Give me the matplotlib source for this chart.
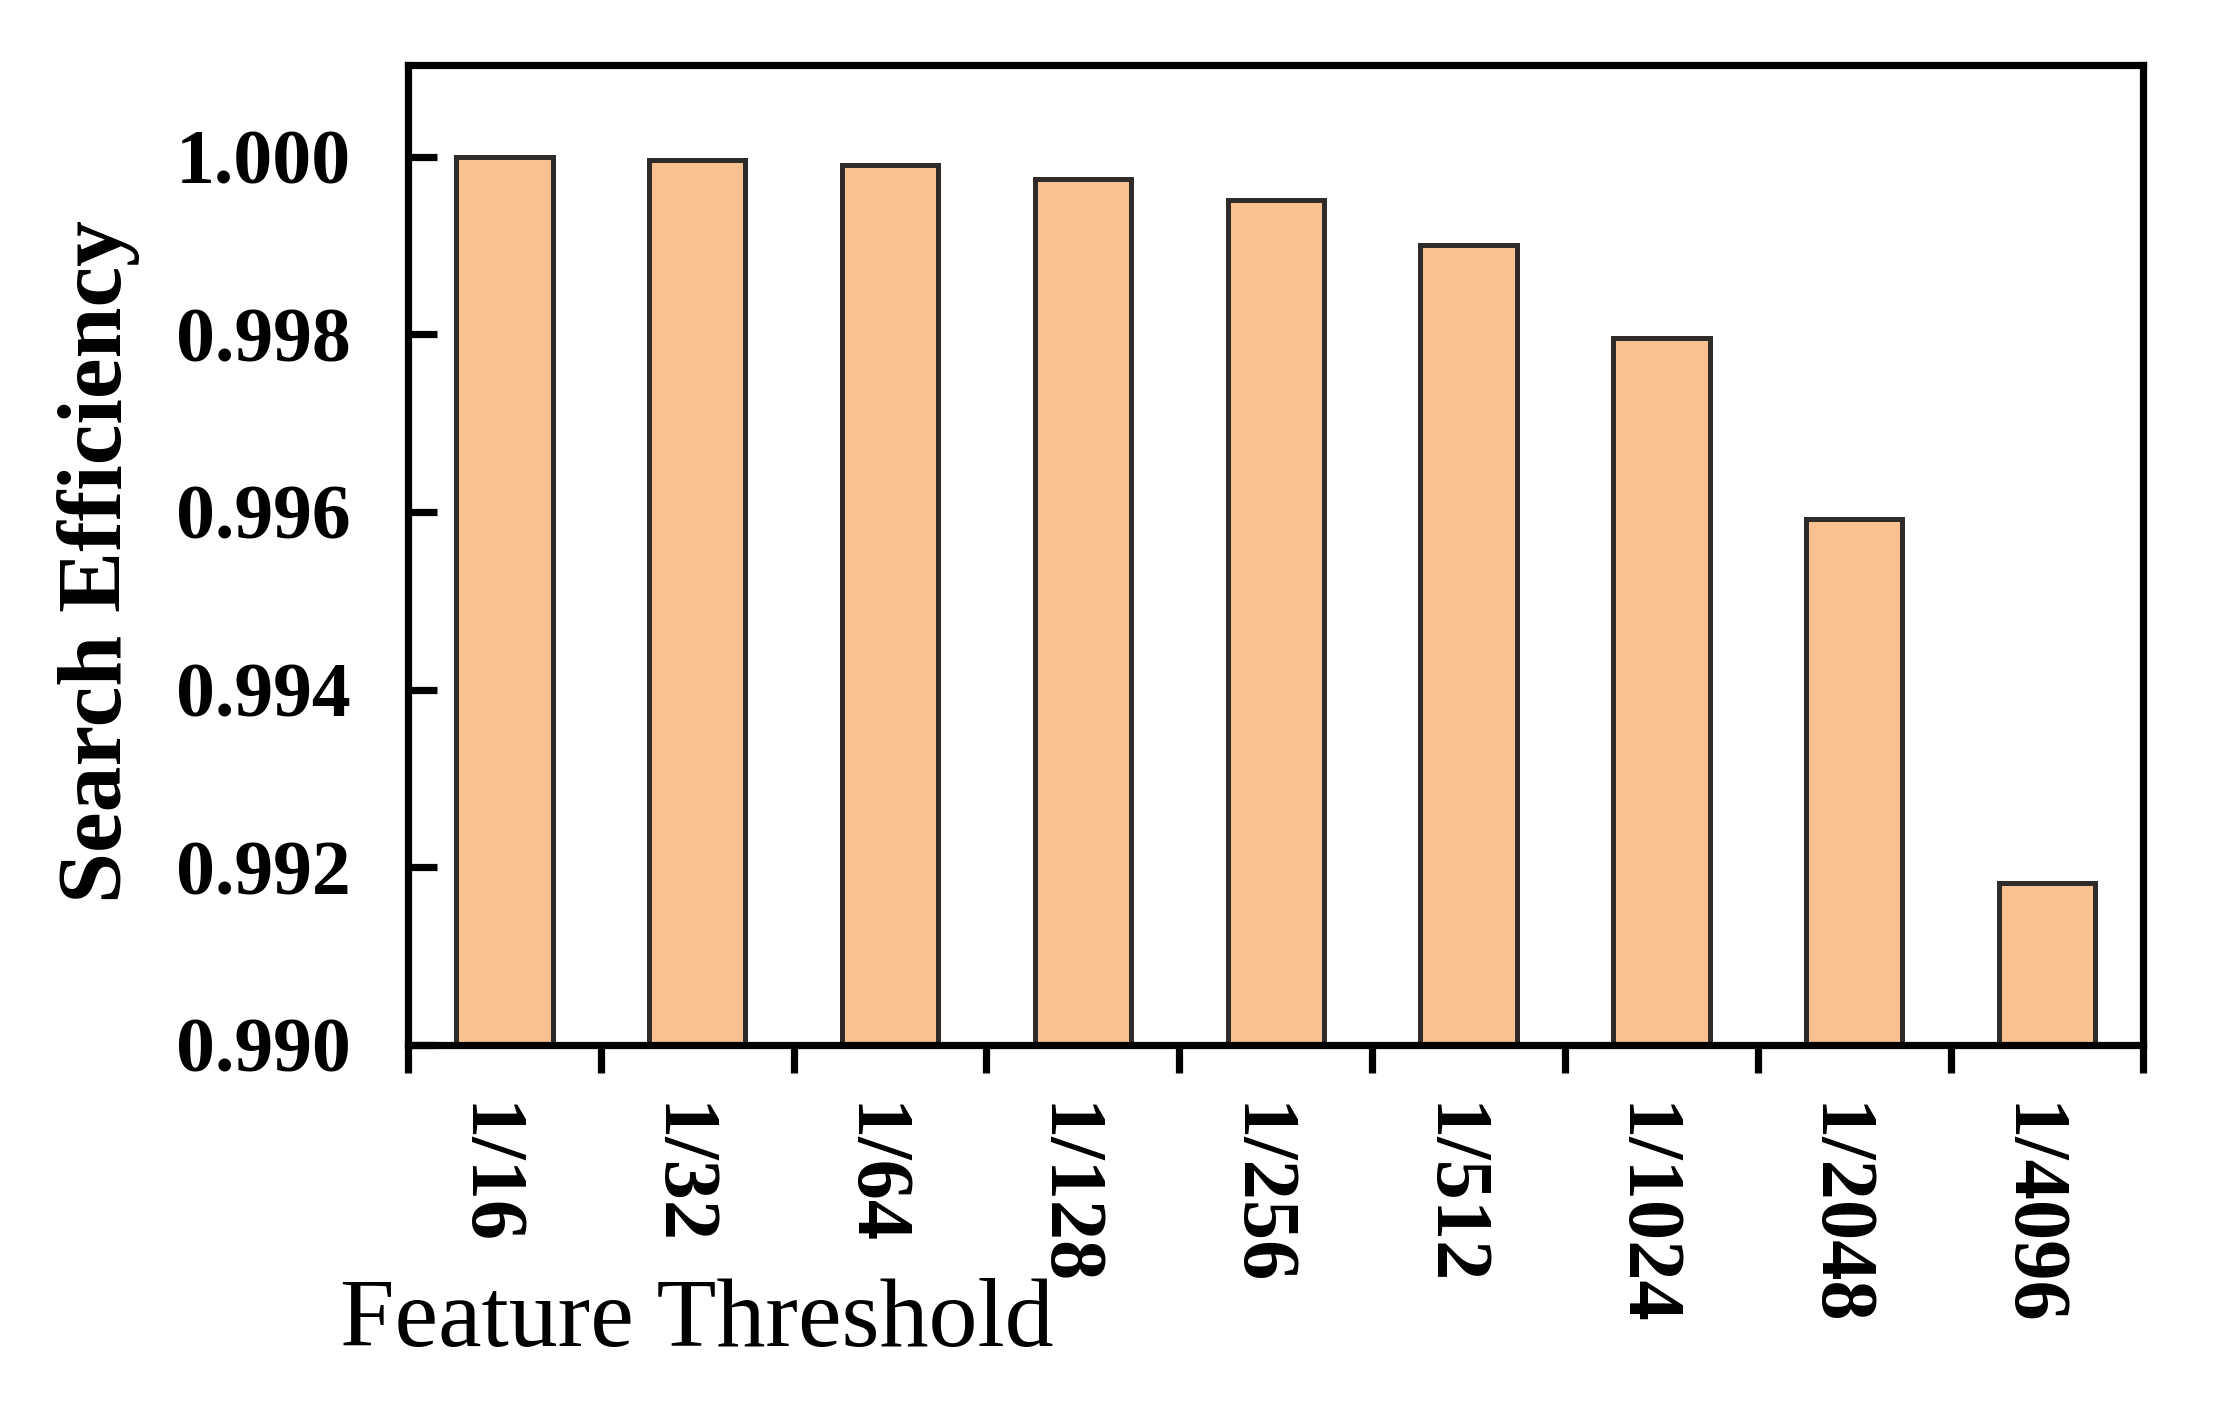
import matplotlib
matplotlib.use('Agg')
import matplotlib.pyplot as plt
import matplotlib.transforms as mtransforms
import numpy as np

categories = ['1/16', '1/32', '1/64', '1/128', '1/256', '1/512', '1/1024', '1/2048', '1/4096']
efficiency = [1.00000, 0.99996, 0.99990, 0.99975, 0.99951, 0.99900, 0.99796, 0.99592, 0.99182]
y_ticks = [0.990, 0.992, 0.994, 0.996, 0.998, 1.000]
y_tick_labels = ['0.990', '0.992', '0.994', '0.996', '0.998', '1.000']
x_label = 'Feature Threshold'
y_label = 'Search Efficiency'

plt.rcParams['font.family'] = ['Liberation Serif', 'DejaVu Serif']

fig = plt.figure(figsize=(22.14, 14.07), dpi=100)
ax = fig.add_axes([0.1843, 0.2573, 0.7838, 0.6965])

x = np.arange(len(categories))
ax.bar(x, efficiency, width=0.5, color='#F9C190', edgecolor='#2F2B28',
       linewidth=3.6, zorder=2)

ax.set_xlim(-0.5, len(categories) - 0.5)
ax.set_ylim(0.990, 1.00103)

ax.set_yticks(y_ticks)
ax.set_yticklabels(y_tick_labels, fontsize=56, fontweight='bold')
ax.set_xticks(x)
ax.set_xticklabels(categories, rotation=270, fontsize=58, fontweight='bold',
                   ha='center', va='top')
ax.set_xticks(np.arange(-0.5, len(categories), 1.0), minor=True)

ax.tick_params(axis='x', which='major', length=0, pad=42)
ax.tick_params(axis='x', which='minor', direction='out', length=20, width=5.2)
ax.tick_params(axis='y', which='major', direction='in', length=21, width=5.2, pad=41)
ax.tick_params(axis='y', which='minor', length=0)

shift = mtransforms.ScaledTranslation(-0.19, 0, fig.dpi_scale_trans)
for lab in ax.get_xticklabels():
    lab.set_transform(lab.get_transform() + shift)

for s in ax.spines.values():
    s.set_linewidth(5.2)

fig.text(0.0447, 0.601, y_label, rotation=90, fontsize=66, fontweight='bold',
         ha='center', va='center')
fig.text(0.1535, 0.043, x_label, fontsize=70.5, ha='left', va='baseline')

fig.savefig('out.png', dpi=100)
